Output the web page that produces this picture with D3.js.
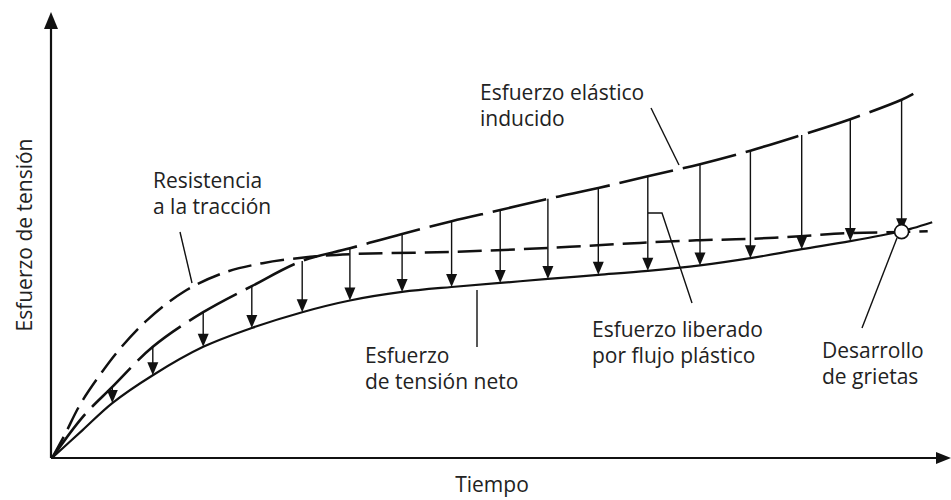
<!DOCTYPE html>
<html>
<head>
<meta charset="utf-8">
<script src="https://cdn.jsdelivr.net/npm/d3@7"></script>
<style>
  body { margin: 0; background: #fff; }
  text { font-family: "Open Sans", sans-serif; font-size: 21px; fill: #222; }
</style>
</head>
<body>
<svg width="951" height="500"></svg>
<script>
// valores (tiempo y esfuerzo en unidades relativas 0-100)
const tiempo   = [0, 3.4, 6.7, 11.2, 16.8, 22.2, 27.8, 33.1, 38.9, 44.4, 49.8, 55.1, 60.7, 66.2, 72.0, 77.6, 83.3, 88.7, 94.4, 95.7, 97.8];
const elastico = [0, 9.1, 15.8, 24.7, 32.4, 38.2, 43.8, 46.6, 49.8, 52.6, 55.1, 57.6, 60.0, 62.6, 65.3, 68.3, 71.8, 75.3, 79.6, 80.9, null];
const neto     = [0, 6.2, 12.2, 18.4, 24.7, 28.9, 32.4, 35.0, 36.9, 38.0, 38.9, 39.8, 40.7, 41.6, 42.8, 44.4, 46.4, 48.2, 50.4, 51.1, 52.4];

const tResistencia = [0, 1.4, 3.1, 5.3, 7.6, 10.6, 14.6, 19.0, 23.4, 28.7, 33.1, 44.2, 55.3, 65.3, 72.0, 77.6, 83.1, 88.7, 94.4, 97.3];
const resistencia  = [0, 5.1, 11.8, 18.4, 24.4, 30.7, 36.9, 41.1, 43.3, 44.7, 45.3, 45.8, 46.7, 47.8, 48.4, 48.7, 49.3, 50.0, 50.2, 50.4];

// tiempos con flecha (esfuerzo liberado por flujo plastico)
const flechas = [6.7, 11.2, 16.8, 22.2, 27.8, 33.1, 38.9, 44.4, 49.8, 55.1, 60.7, 66.2, 72.0, 77.6, 83.3, 88.7, 94.4];

// punto de desarrollo de grietas
const grieta = [94.4, 50.3];

const svg = d3.select('svg');

const x = d3.scaleLinear().domain([0, 100]).range([52, 952]);
const y = d3.scaleLinear().domain([0, 100]).range([458, 8]);

const g = svg.append('g');

// ejes con flecha
g.append('line')
    .attr('x1', x(0) - 1).attr('y1', y(0))
    .attr('x2', x(0) - 1).attr('y2', 26)
    .attr('stroke', '#111').attr('stroke-width', 2.2);
g.append('path')
    .attr('d', `M${x(0) - 1},12 L${x(0) - 8},29 L${x(0) + 6},29 Z`)
    .attr('fill', '#111');

g.append('line')
    .attr('x1', x(0) - 1).attr('y1', y(0))
    .attr('x2', 938).attr('y2', y(0))
    .attr('stroke', '#111').attr('stroke-width', 2.2);
g.append('path')
    .attr('d', `M951,${y(0)} L936,${y(0) - 6} L936,${y(0) + 6} Z`)
    .attr('fill', '#111');

// curvas
const linea = d3.line()
    .defined(d => d[1] != null)
    .x(d => x(d[0]))
    .y(d => y(d[1]))
    .curve(d3.curveCatmullRom.alpha(0.5));

const serie = (ts, vs) => ts.map((t, i) => [t, vs[i]]);

g.append('path')
    .attr('d', linea(serie(tResistencia, resistencia)))
    .attr('fill', 'none').attr('stroke', '#111')
    .attr('stroke-width', 2.5).attr('stroke-dasharray', '24,9');

g.append('path')
    .attr('d', linea(serie(tiempo, elastico)))
    .attr('fill', 'none').attr('stroke', '#111')
    .attr('stroke-width', 2.6).attr('stroke-dasharray', '55,10');

g.append('path')
    .attr('d', linea(serie(tiempo, neto)))
    .attr('fill', 'none').attr('stroke', '#111')
    .attr('stroke-width', 2.2);

// flechas
const fl = g.selectAll('g.flecha')
    .data(flechas.map(t => {
        const i = tiempo.indexOf(t);
        return { t, de: elastico[i], a: neto[i] };
    }))
    .enter().append('g').attr('class', 'flecha');

fl.append('line')
    .attr('x1', d => x(d.t)).attr('x2', d => x(d.t))
    .attr('y1', d => y(d.de)).attr('y2', d => y(d.a) - 10)
    .attr('stroke', '#111').attr('stroke-width', 1.4);

fl.append('path')
    .attr('d', d => `M${x(d.t)},${y(d.a)} L${x(d.t) - 5.5},${y(d.a) - 13} L${x(d.t) + 5.5},${y(d.a) - 13} Z`)
    .attr('fill', '#111');

// circulo de grietas
g.append('circle')
    .attr('cx', x(grieta[0])).attr('cy', y(grieta[1])).attr('r', 7)
    .attr('fill', '#fff').attr('stroke', '#111').attr('stroke-width', 1.6);

// rotulos y lineas de referencia
const notas = [
    { lineas: ['Resistencia', 'a la tracción'], x: 153, y: 188, guia: [[180, 232], [192, 283]] },
    { lineas: ['Esfuerzo elástico', 'inducido'], x: 480, y: 100, guia: [[651, 108], [679, 165]] },
    { lineas: ['Esfuerzo', 'de tensión neto'], x: 365, y: 363, guia: [[477, 290], [477, 347]] },
    { lineas: ['Esfuerzo liberado', 'por flujo plástico'], x: 592, y: 337, guia: [[648, 213], [662, 213], [692, 303]] },
    { lineas: ['Desarrollo', 'de grietas'], x: 822, y: 358, guia: [[862, 328], [897, 238]] }
];

notas.forEach(n => {
    g.append('path')
        .attr('d', d3.line()(n.guia))
        .attr('fill', 'none').attr('stroke', '#111').attr('stroke-width', 1.4);
    const t = g.append('text').attr('x', n.x).attr('y', n.y);
    n.lineas.forEach((l, i) => {
        t.append('tspan').attr('x', n.x).attr('dy', i === 0 ? 0 : 26).text(l);
    });
});

// titulos de ejes
g.append('text')
    .attr('x', 492).attr('y', 492)
    .attr('text-anchor', 'middle')
    .text('Tiempo');

g.append('text')
    .attr('transform', 'translate(32,235) rotate(-90)')
    .attr('text-anchor', 'middle')
    .text('Esfuerzo de tensión');
</script>
</body>
</html>
